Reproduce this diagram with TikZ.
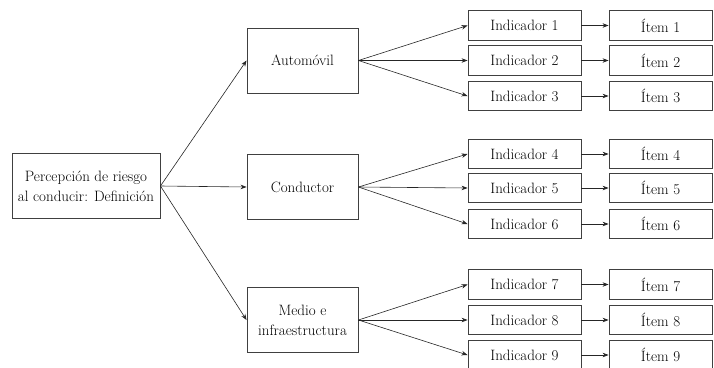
\documentclass[tikz,border=0pt]{standalone}
\usetikzlibrary{arrows.meta}
\begin{document}
\begin{tikzpicture}[x=1pt,y=-1pt,
  box/.style={draw=black!75,line width=0.9pt,inner sep=0pt,align=center,font=\fontsize{15}{20}\selectfont},
  cat/.style={box,minimum width=111pt,minimum height=65pt},
  ind/.style={box,minimum width=113pt,minimum height=29.5pt},
  itm/.style={box,minimum width=103pt,minimum height=29.5pt},
  arr/.style={draw=black!85,line width=0.6pt,-{Stealth[length=6pt,width=4.5pt]}}]
\useasboundingbox (0,0) rectangle (714,367);
\node[box,minimum width=148pt,minimum height=65pt] (root) at (86,186) {Percepción de riesgo\\al conducir: Definición};
\node[cat] (auto) at (302.5,60.5) {Automóvil};
\node[cat] (cond) at (302.5,187) {Conductor};
\node[cat] (medio) at (302.5,320) {Medio e\\infraestructura};
\foreach \n/\y in {1/25.5,2/60.5,3/96,4/154,5/188,6/224,7/284.5,8/320,9/355}{
  \node[ind] (i\n) at (524.5,\y) {Indicador \n};
  \node[itm] (t\n) at (660.5,\y) {Ítem \n};
  \draw[arr] (i\n) -- (t\n);
}
\draw[arr] (root.east) -- (auto.west);
\draw[arr] (root.east) -- (cond.west);
\draw[arr] (root.east) -- (medio.west);
\foreach \n in {1,2,3}{\draw[arr] (auto.east) -- (i\n.west);}
\foreach \n in {4,5,6}{\draw[arr] (cond.east) -- (i\n.west);}
\foreach \n in {7,8,9}{\draw[arr] (medio.east) -- (i\n.west);}
\end{tikzpicture}
\end{document}
